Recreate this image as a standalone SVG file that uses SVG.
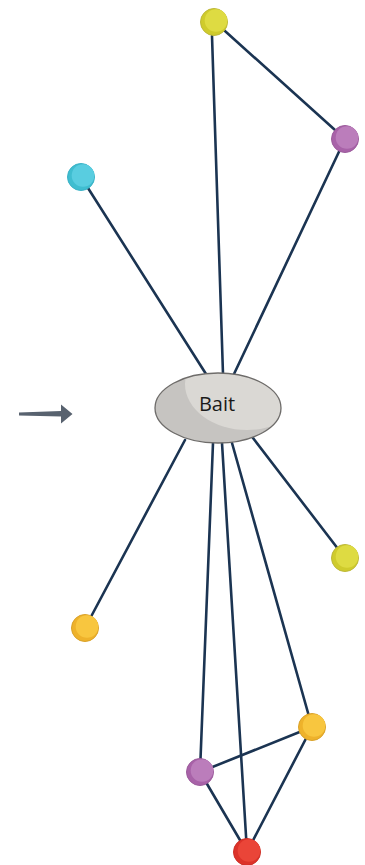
<svg xmlns="http://www.w3.org/2000/svg" width="365" height="865" viewBox="0 0 365 865">
<style>
.edge{stroke:#1b3452;stroke-width:2.6;fill:none;stroke-linecap:round}
.lbl{font-family:"Open Sans","DejaVu Sans",sans-serif;font-size:20px;fill:#1a1a1a;text-anchor:middle}
.yel .b{fill:#cfcb2c;stroke:#bdb83a}.yel .h{fill:#dedb42}
.pur .b{fill:#a862a8;stroke:#9c5c9c}.pur .h{fill:#bb7dbb}
.cya .b{fill:#3fbdd0;stroke:#3ab2c6}.cya .h{fill:#59cde0}
.ora .b{fill:#eeb22b;stroke:#d9a22a}.ora .h{fill:#f8c63f}
.red .b{fill:#dc3229;stroke:#cc2f27}.red .h{fill:#ea4538}
.b{stroke-width:1}
</style>
<defs>
<clipPath id="ec"><ellipse cx="218" cy="408" rx="63" ry="35"/></clipPath>
</defs>
<g id="connectors">
<line class="edge" x1="215" y1="22" x2="345" y2="139"/>
<line class="edge" x1="212" y1="36" x2="223" y2="374"/>
<line class="edge" x1="345" y1="139" x2="234" y2="374"/>
<line class="edge" x1="81" y1="177" x2="206" y2="374"/>
<line class="edge" x1="185" y1="440" x2="85" y2="628"/>
<line class="edge" x1="213" y1="443" x2="200" y2="772"/>
<line class="edge" x1="222" y1="443" x2="247" y2="852"/>
<line class="edge" x1="232" y1="443" x2="312" y2="727"/>
<line class="edge" x1="253" y1="438" x2="345" y2="558"/>
<line class="edge" x1="200" y1="772" x2="312" y2="727"/>
<line class="edge" x1="200" y1="772" x2="247" y2="852"/>
<line class="edge" x1="312" y1="727" x2="247" y2="852"/>
</g>
<g id="arrow">
<polygon points="19,412.6 61,411 61,404.5 72.5,414 61,423.5 61,416.5 19,415.6" fill="#58626f"/>
</g>
<g id="bait">
<ellipse cx="218" cy="408" rx="63" ry="35" fill="#c6c4c1"/>
<ellipse cx="247" cy="384" rx="62" ry="46" fill="#dad8d4" clip-path="url(#ec)"/>
<ellipse cx="218" cy="408" rx="63" ry="35" fill="none" stroke="#6e6c6a" stroke-width="1.3"/>
<text class="lbl" x="217" y="411">Bait</text>
</g>
<g id="n_top_yellow" class="yel"><circle class="b" cx="214" cy="22" r="13.5"/><circle class="h" cx="216" cy="20.5" r="11.3"/></g>
<g id="n_top_purple" class="pur"><circle class="b" cx="345" cy="139" r="13.5"/><circle class="h" cx="347" cy="137.5" r="11.3"/></g>
<g id="n_cyan" class="cya"><circle class="b" cx="81" cy="177" r="13.5"/><circle class="h" cx="83" cy="175.5" r="11.3"/></g>
<g id="n_right_yellow" class="yel"><circle class="b" cx="345" cy="558" r="13.5"/><circle class="h" cx="347" cy="556.5" r="11.3"/></g>
<g id="n_left_orange" class="ora"><circle class="b" cx="85" cy="628" r="13.5"/><circle class="h" cx="87" cy="626.5" r="11.3"/></g>
<g id="n_bottom_orange" class="ora"><circle class="b" cx="312" cy="727" r="13.5"/><circle class="h" cx="314" cy="725.5" r="11.3"/></g>
<g id="n_bottom_purple" class="pur"><circle class="b" cx="200" cy="772" r="13.5"/><circle class="h" cx="202" cy="770.5" r="11.3"/></g>
<g id="n_red" class="red"><circle class="b" cx="247" cy="852" r="13.5"/><circle class="h" cx="249" cy="850.5" r="11.3"/></g>
</svg>
